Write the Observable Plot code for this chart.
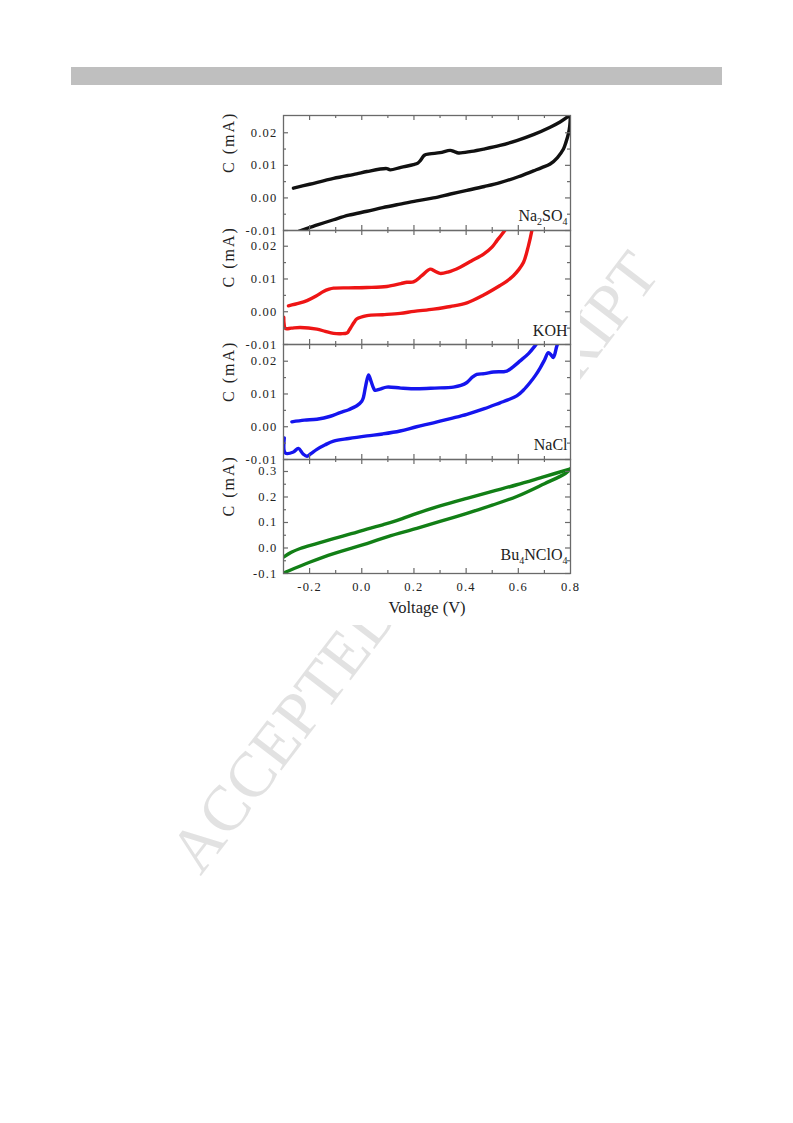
<!DOCTYPE html>
<html><head><meta charset="utf-8">
<script src="https://cdn.jsdelivr.net/npm/d3@7"></script>
<script src="https://cdn.jsdelivr.net/npm/@observablehq/plot@0.6"></script>
<style>
body{margin:0;background:#fff;}
#page{position:relative;width:793px;height:1123px;overflow:hidden;background:#fff;font-family:"Liberation Serif",serif;}
#chart svg{position:absolute;left:0;}
</style></head>
<body><div id="page">
<svg id="wm" width="793" height="1123" style="position:absolute;left:0;top:0">
<text transform="translate(431,575) rotate(-52.6)" text-anchor="middle" font-family="Liberation Serif" font-size="64" fill="#e2e2e2">ACCEPTED MANUSCRIPT</text>
</svg>
<div id="bar" style="position:absolute;left:71px;top:67px;width:651px;height:18px;background:#bfbfbf"></div>
<div id="chart" style="position:absolute;left:200px;top:105px;width:380px;height:520px;background:#fff"></div>
</div>
<script>
// ---- data: [voltage V, current mA] ----
const na2so4Forward = [[-0.262,0.0030],[-0.2,0.0042],[-0.108,0.0060],[-0.02,0.0074],[0.02,0.0081],[0.096,0.0090],[0.109,0.0086],[0.15,0.0094],[0.198,0.0102],[0.215,0.0107],[0.226,0.0116],[0.240,0.0131],[0.26,0.0135],[0.30,0.0139],[0.339,0.0146],[0.355,0.0142],[0.371,0.0138],[0.42,0.0143],[0.467,0.0150],[0.53,0.0161],[0.594,0.0176],[0.66,0.0195],[0.722,0.0217],[0.76,0.0233],[0.786,0.0247],[0.8,0.0256]];
const na2so4Reverse = [[0.8,0.0256],[0.797,0.0220],[0.792,0.0197],[0.783,0.0172],[0.773,0.0150],[0.75,0.0124],[0.722,0.0104],[0.69,0.0093],[0.658,0.0083],[0.6,0.0065],[0.53,0.0047],[0.47,0.0035],[0.403,0.0023],[0.34,0.0012],[0.275,0.0000],[0.21,-0.0009],[0.147,-0.0019],[0.08,-0.0030],[0.02,-0.0041],[-0.05,-0.0053],[-0.108,-0.0067],[-0.17,-0.0083],[-0.236,-0.0101],[-0.26,-0.0110]];
const kohForward = [[-0.281,0.0018],[-0.24,0.0026],[-0.21,0.0034],[-0.175,0.0048],[-0.147,0.0062],[-0.125,0.0069],[-0.108,0.0072],[-0.05,0.0073],[0.02,0.0074],[0.096,0.0077],[0.15,0.0086],[0.173,0.0090],[0.198,0.0091],[0.23,0.0110],[0.262,0.0130],[0.28,0.0124],[0.300,0.0117],[0.33,0.0121],[0.377,0.0136],[0.42,0.0155],[0.467,0.0176],[0.50,0.0198],[0.518,0.0217],[0.535,0.0234],[0.55,0.0250],[0.56,0.0262]];
const kohReverse = [[0.655,0.0262],[0.652,0.0248],[0.639,0.0202],[0.620,0.0151],[0.60,0.0127],[0.581,0.0110],[0.555,0.0093],[0.530,0.0080],[0.467,0.0051],[0.403,0.0027],[0.34,0.0016],[0.275,0.0008],[0.2,0.0001],[0.147,-0.0005],[0.08,-0.0009],[0.02,-0.0012],[-0.019,-0.0022],[-0.03,-0.0033],[-0.038,-0.0043],[-0.048,-0.0056],[-0.057,-0.0065],[-0.08,-0.0067],[-0.108,-0.0066],[-0.14,-0.0060],[-0.172,-0.0053],[-0.236,-0.0048],[-0.27,-0.0050],[-0.293,-0.0051],[-0.298,-0.0035],[-0.299,-0.0017]];
const naclForward = [[-0.268,0.0015],[-0.22,0.0020],[-0.172,0.0023],[-0.12,0.0032],[-0.083,0.0043],[-0.05,0.0052],[-0.019,0.0064],[0.0,0.0078],[0.0065,0.0090],[0.015,0.0125],[0.026,0.0158],[0.035,0.0140],[0.045,0.0118],[0.051,0.0111],[0.07,0.0115],[0.096,0.0121],[0.15,0.0118],[0.211,0.0116],[0.28,0.0118],[0.351,0.0121],[0.38,0.0126],[0.403,0.0135],[0.425,0.0152],[0.441,0.0160],[0.47,0.0162],[0.505,0.0167],[0.556,0.0170],[0.58,0.0183],[0.607,0.0201],[0.64,0.0224],[0.664,0.0247],[0.675,0.0258]];
const naclReverse = [[0.755,0.0262],[0.747,0.0245],[0.740,0.0222],[0.734,0.0211],[0.725,0.0220],[0.715,0.0226],[0.70,0.0203],[0.684,0.0180],[0.665,0.0156],[0.645,0.0135],[0.62,0.0112],[0.594,0.0094],[0.56,0.0082],[0.530,0.0073],[0.47,0.0055],[0.403,0.0038],[0.34,0.0025],[0.275,0.0012],[0.21,0.0000],[0.147,-0.0013],[0.08,-0.0022],[0.02,-0.0028],[-0.05,-0.0036],[-0.108,-0.0044],[-0.14,-0.0055],[-0.172,-0.0069],[-0.195,-0.0082],[-0.210,-0.0090],[-0.225,-0.0083],[-0.243,-0.0066],[-0.262,-0.0077],[-0.293,-0.0080],[-0.297,-0.0034]];
const bu4nclo4Forward = [[-0.3,-0.036],[-0.27,-0.017],[-0.236,-0.002],[-0.17,0.018],[-0.108,0.037],[-0.04,0.056],[0.0195,0.074],[0.08,0.091],[0.121,0.103],[0.16,0.117],[0.211,0.136],[0.30,0.165],[0.403,0.195],[0.50,0.222],[0.594,0.248],[0.70,0.280],[0.8,0.310]];
const bu4nclo4Reverse = [[0.8,0.310],[0.78,0.292],[0.70,0.252],[0.594,0.202],[0.50,0.168],[0.403,0.136],[0.30,0.104],[0.211,0.077],[0.10,0.045],[0.0195,0.017],[-0.108,-0.022],[-0.2,-0.056],[-0.293,-0.095],[-0.3,-0.098]];

const electrolytes = ["Na2SO4", "KOH", "NaCl", "Bu4NClO4"];
const lineColors = ["#111111", "#ee1515", "#1515ee", "#127f16"];
const xTicks = [-0.2, 0.0, 0.2, 0.4, 0.6, 0.8];
const xMinorTicks = [-0.1, 0.1, 0.3, 0.5, 0.7];
const yTicksSmall = [-0.01, 0.00, 0.01, 0.02];
const yMinorSmall = [-0.005, 0.005, 0.015];
const yTicksLarge = [-0.1, 0.0, 0.1, 0.2, 0.3];
const yMinorLarge = [-0.05, 0.05, 0.15, 0.25];
const yLabel = "C (mA)";
const xLabel = "Voltage (V)";

const panels = [
  {name: electrolytes[0], color: lineColors[0], fwd: na2so4Forward, rev: na2so4Reverse, domain: [-0.01, 0.0253], ticks: yTicksSmall, minor: yMinorSmall, digits: 2, top: 0, inner: 115, labelDy: -10},
  {name: electrolytes[1], color: lineColors[1], fwd: kohForward, rev: kohReverse, domain: [-0.01, 0.0248], ticks: yTicksSmall, minor: yMinorSmall, digits: 2, top: 115, inner: 114, labelDy: -9},
  {name: electrolytes[2], color: lineColors[2], fwd: naclForward, rev: naclReverse, domain: [-0.01, 0.0251], ticks: yTicksSmall, minor: yMinorSmall, digits: 2, top: 229, inner: 115, labelDy: -10},
  {name: electrolytes[3], color: lineColors[3], fwd: bu4nclo4Forward, rev: bu4nclo4Reverse, domain: [-0.1, 0.347], ticks: yTicksLarge, minor: yMinorLarge, digits: 1, top: 344, inner: 114, labelDy: -14, last: true}
];

const W = 380, ML = 83, MR = 10, MT = 10;
const innerW = W - ML - MR;
const gray = "#6a6a6a";
const textColor = "#222";
const chart = document.getElementById("chart");

function subscriptify(el) {
  const s = el.textContent;
  const parts = s.match(/\d+|\D+/g);
  el.textContent = "";
  let down = false;
  for (const p of parts) {
    const t = document.createElementNS("http://www.w3.org/2000/svg", "tspan");
    t.textContent = p;
    t.setAttribute("fill", textColor);
    if (/^\d+$/.test(p)) { t.setAttribute("font-size", "10"); t.setAttribute("dy", "4"); down = true; }
    else if (down) { t.setAttribute("dy", "-4"); down = false; }
    el.appendChild(t);
  }
}

panels.forEach(p => {
  const MB = p.last ? 50 : 10;
  const H = MT + p.inner + MB;
  const fmt = d => d.toFixed(p.digits);
  const marks = [
    Plot.line(p.fwd, {x: d => d[0], y: d => d[1], stroke: p.color, strokeWidth: 3.4, curve: "catmull-rom", clip: true}),
    Plot.line(p.rev, {x: d => d[0], y: d => d[1], stroke: p.color, strokeWidth: 3.4, curve: "catmull-rom", clip: true}),
    Plot.frame({stroke: gray, strokeWidth: 1.3}),
    // inward ticks on all four sides
    Plot.tickY(p.ticks, {y: d => d, stroke: gray, strokeWidth: 1.2, insetRight: innerW - 5}),
    Plot.tickY(p.minor, {y: d => d, stroke: gray, strokeWidth: 1.2, insetRight: innerW - 3}),
    Plot.tickY(p.ticks, {y: d => d, stroke: gray, strokeWidth: 1.2, insetLeft: innerW - 5}),
    Plot.tickY(p.minor, {y: d => d, stroke: gray, strokeWidth: 1.2, insetLeft: innerW - 3}),
    Plot.tickX(xTicks.filter(v => v < 0.8), {x: d => d, stroke: gray, strokeWidth: 1.2, insetBottom: p.inner - 5}),
    Plot.tickX(xMinorTicks, {x: d => d, stroke: gray, strokeWidth: 1.2, insetBottom: p.inner - 3}),
    Plot.tickX(xTicks.filter(v => v < 0.8), {x: d => d, stroke: gray, strokeWidth: 1.2, insetTop: p.inner - 5}),
    Plot.tickX(xMinorTicks, {x: d => d, stroke: gray, strokeWidth: 1.2, insetTop: p.inner - 3}),
    Plot.axisY(p.ticks, {anchor: "left", tickSize: 0, tickPadding: 6, tickFormat: fmt, label: null, fontSize: 12.5, fill: textColor}),
    Plot.text([yLabel], {text: d => d, frameAnchor: "left", dx: -55, rotate: -90, fontSize: 16, fill: textColor}),
    Plot.text([p.name], {text: d => d, frameAnchor: "bottom-right", dx: -3, dy: p.labelDy, textAnchor: "end", lineAnchor: "bottom", fontSize: 16, fill: textColor})
  ];
  if (p.last) {
    marks.push(Plot.axisX(xTicks, {anchor: "bottom", tickSize: 0, tickPadding: 9, tickFormat: d => d.toFixed(1), label: null, fontSize: 12.5, fill: textColor}));
    marks.push(Plot.text([xLabel], {text: d => d, frameAnchor: "bottom", dy: 34, lineAnchor: "middle", fontSize: 16.5, fill: textColor}));
  }
  const svg = Plot.plot({
    width: W, height: H,
    marginLeft: ML, marginRight: MR, marginTop: MT, marginBottom: MB,
    x: {domain: [-0.3, 0.8], axis: p.last ? undefined : null},
    y: {domain: p.domain},
    style: {fontFamily: "Liberation Serif", fontSize: "12px", color: textColor, background: "transparent", overflow: "visible"},
    marks
  });
  svg.style.position = "absolute";
  svg.style.top = p.top + "px";
  svg.style.left = "0px";
  d3.select(svg).selectAll("text").each(function() {
    const s = this.textContent;
    if (s === yLabel) this.setAttribute("letter-spacing", "2");
    else if (/^-?\d\.\d+$/.test(s)) this.setAttribute("letter-spacing", "1.2");
    if (s === "Na2SO4" || s === "Bu4NClO4") subscriptify(this);
  });
  chart.appendChild(svg);
});
</script>
</body></html>
